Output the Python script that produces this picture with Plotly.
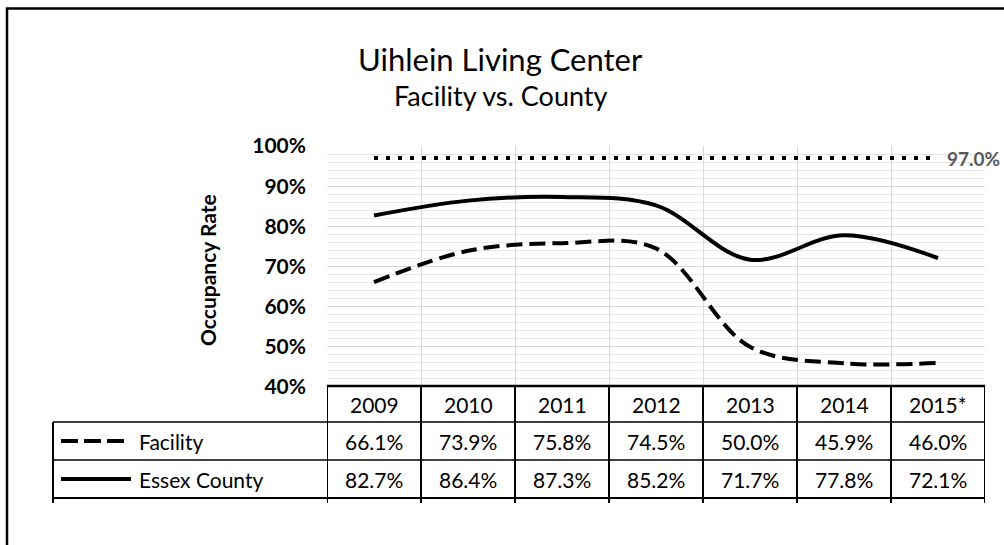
import plotly.graph_objects as go

# ---- data ----
years = ["2009", "2010", "2011", "2012", "2013", "2014", "2015*"]
facility = [66.1, 73.9, 75.8, 74.5, 50.0, 45.9, 46.0]
essex_county = [82.7, 86.4, 87.3, 85.2, 71.7, 77.8, 72.1]
target = 97.0
series_names = ["Facility", "Essex County"]
title_text = "Uihlein Living Center"
subtitle_text = "Facility vs. County"
y_title = "Occupancy Rate"

W, H = 1004, 545
FONT = "Lato"
TS = 21  # table font size


def px(x):
    return x / W


def py(y):
    return 1 - y / H


fig = go.Figure()

fig.add_trace(go.Scatter(
    x=years, y=[target / 100] * len(years), mode="lines",
    line=dict(color="black", width=4, dash="4px,8px"),
    showlegend=False, hoverinfo="skip"))
fig.add_trace(go.Scatter(
    x=years, y=[v / 100 for v in facility], mode="lines", name=series_names[0],
    line=dict(color="black", width=4, dash="16px,7px", shape="spline", smoothing=1.0),
    showlegend=False))
fig.add_trace(go.Scatter(
    x=years, y=[v / 100 for v in essex_county], mode="lines", name=series_names[1],
    line=dict(color="black", width=4, shape="spline", smoothing=1.0),
    showlegend=False))

x_left, x_right = 327, 985
y_top, y_bot = 146, 387

fig.update_xaxes(
    type="category", domain=[px(x_left), px(x_right)], range=[-0.5, len(years) - 0.5],
    tickson="boundaries", showgrid=True, gridcolor="#d9d9d9", gridwidth=1.3,
    showticklabels=False, ticks="", zeroline=False, showline=False, automargin=False)
fig.update_yaxes(
    domain=[py(y_bot), py(y_top)], range=[0.4, 1.0], dtick=0.1, tickformat=".0%",
    showgrid=True, gridcolor="#d9d9d9", gridwidth=1.3,
    minor=dict(dtick=0.02, showgrid=True, gridcolor="#e8e8e8", gridwidth=1),
    tickfont=dict(family=FONT, size=21, color="black", weight="bold"),
    ticks="", ticklabelstandoff=20, zeroline=False, showline=False, automargin=False)

shapes = []
# outer frame
shapes.append(dict(type="rect", xref="paper", yref="paper", x0=px(7), x1=px(W + 10),
                   y0=py(H + 10), y1=py(8.5), line=dict(color="black", width=2.5)))
# table horizontal lines
shapes.append(dict(type="line", xref="paper", yref="paper", x0=px(x_left), x1=px(x_right),
                   y0=py(386), y1=py(386), line=dict(color="black", width=2.5)))
for yy, w in [(422, 1.6), (460, 1.6), (498, 2.2)]:
    shapes.append(dict(type="line", xref="paper", yref="paper", x0=px(53), x1=px(x_right),
                       y0=py(yy), y1=py(yy), line=dict(color="black", width=w)))
# table vertical lines
shapes.append(dict(type="line", xref="paper", yref="paper", x0=px(53), x1=px(53),
                   y0=py(422), y1=py(503), line=dict(color="black", width=2)))
for i in range(len(years) + 1):
    shapes.append(dict(type="line", xref="x", yref="paper", x0=i - 0.5, x1=i - 0.5,
                       y0=py(386), y1=py(503), line=dict(color="black", width=2)))
# legend keys
shapes.append(dict(type="line", xref="paper", yref="paper", x0=px(61), x1=px(127),
                   y0=py(441), y1=py(441), line=dict(color="black", width=4, dash="17px,6px")))
shapes.append(dict(type="line", xref="paper", yref="paper", x0=px(61), x1=px(131),
                   y0=py(479), y1=py(479), line=dict(color="black", width=4)))

ann = []


def txt(text, x, y, size, xref="paper", xanchor="center", **kw):
    d = dict(text=text, xref=xref, yref="paper", x=x, y=y, xanchor=xanchor,
             yanchor="middle", showarrow=False,
             font=dict(family=FONT, size=size, color=kw.pop("color", "black"),
                       weight=kw.pop("weight", "normal")))
    d.update(kw)
    ann.append(d)


txt(title_text, px(500), py(59), 31)
txt(subtitle_text, px(501), py(95), 27)
txt(y_title, px(207), py(270), 21, weight="bold", textangle=-90)
ann.append(dict(text=f"{target:.1f}%", xref="x", yref="y", x=len(years) - 1, y=target / 100,
                xanchor="left", yanchor="middle", xshift=7, showarrow=False,
                font=dict(family=FONT, size=19, color="#595959", weight="bold")))
for i, yr in enumerate(years):
    txt(yr, i, py(404), TS, xref="x")
    txt(f"{facility[i]:.1f}%", i, py(441), TS, xref="x")
    txt(f"{essex_county[i]:.1f}%", i, py(479), TS, xref="x")
txt(series_names[0], px(137), py(441), TS, xanchor="left")
txt(series_names[1], px(137), py(479), TS, xanchor="left")

fig.update_layout(
    width=W, height=H, margin=dict(l=0, r=0, t=0, b=0, pad=0, autoexpand=False),
    paper_bgcolor="white", plot_bgcolor="white",
    shapes=shapes, annotations=ann, showlegend=False,
    font=dict(family=FONT))

fig.write_html("out.html", config={"displayModeBar": False},
               post_script="document.body.style.margin='0';document.body.style.overflow='hidden';")
